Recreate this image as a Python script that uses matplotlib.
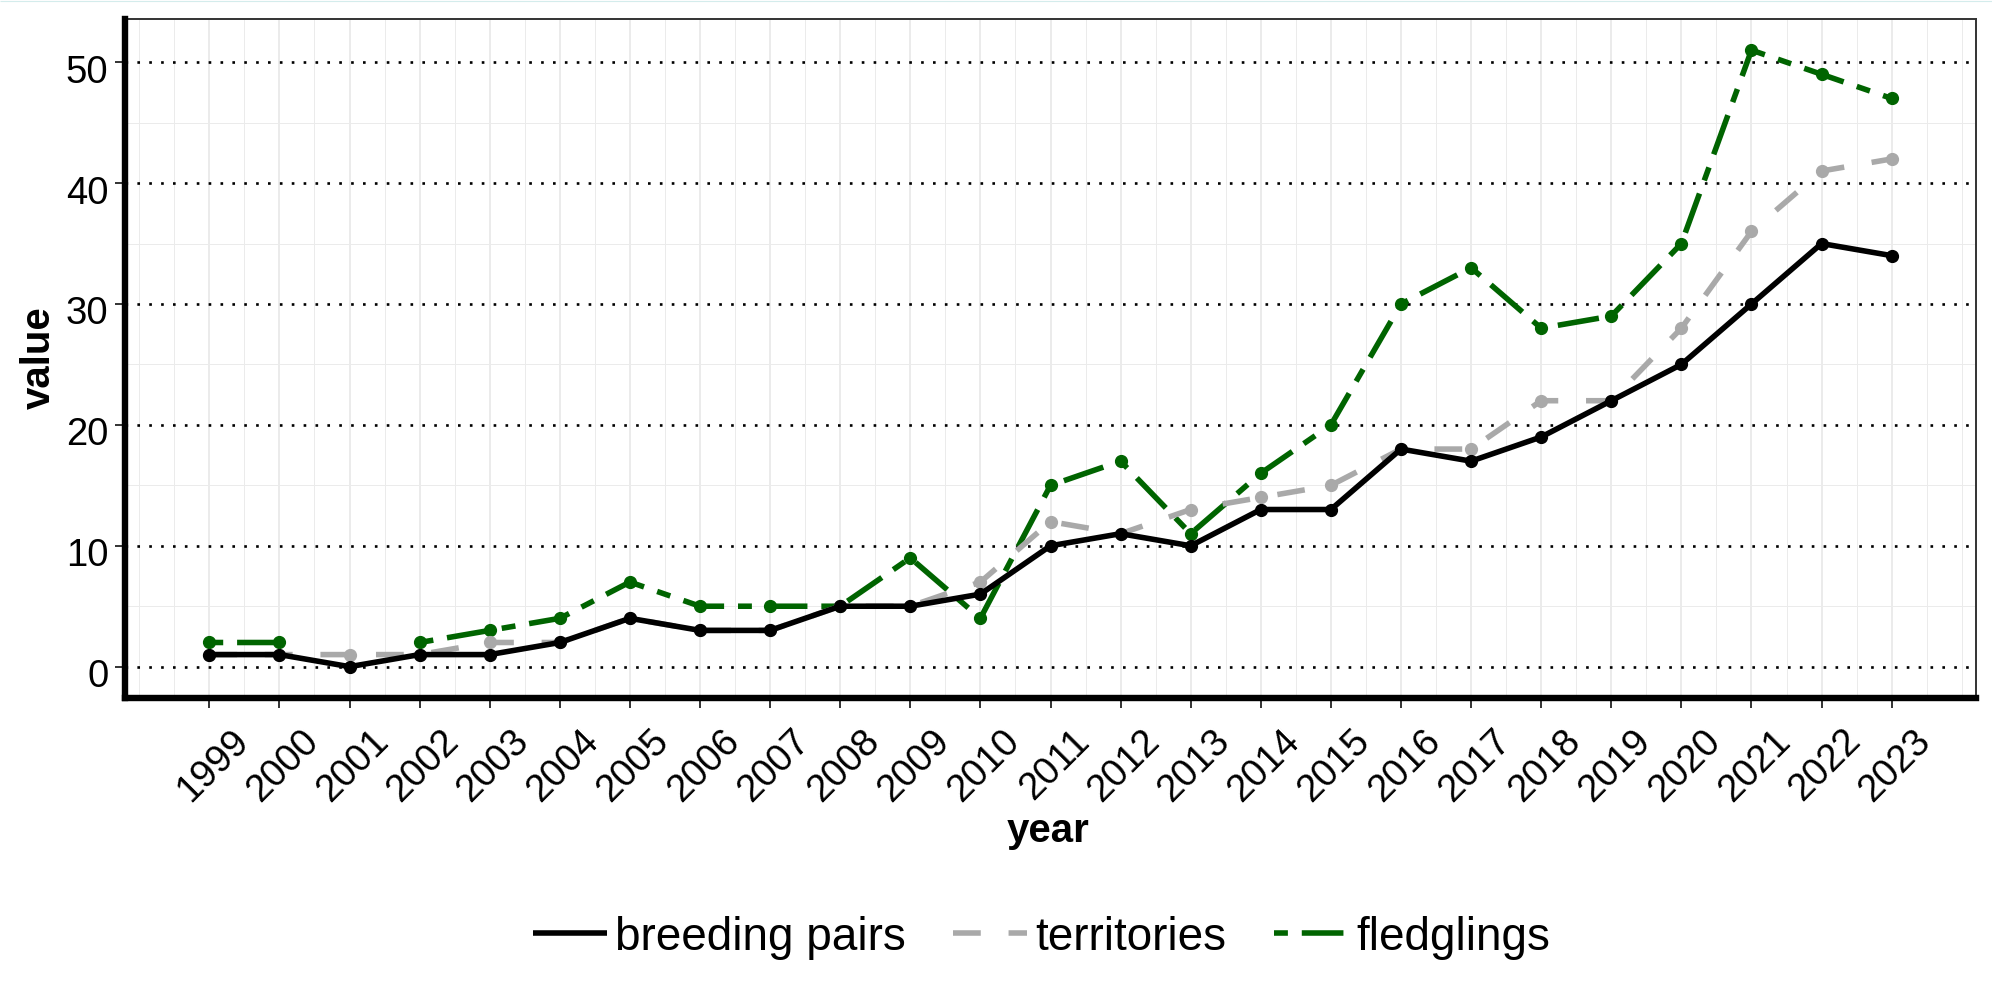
"""Breeding pairs, territories and fledglings per year (1999-2023)."""

import matplotlib
matplotlib.use("Agg")
import matplotlib.pyplot as plt
import matplotlib.transforms as mtransforms
import numpy as np
from matplotlib.lines import Line2D

matplotlib.rcParams.update({
    "font.family": ["Liberation Sans", "DejaVu Sans"],
    "axes.linewidth": 1.4,
    "lines.solid_capstyle": "butt",
    "lines.dash_capstyle": "butt",
})

# ── Data ──────────────────────────────────────────────────────────────────

years = list(range(1999, 2024))
breeding_pairs = [1, 1, 0, 1, 1, 2, 4, 3, 3, 5, 5, 6, 10, 11, 10, 13, 13,
                  18, 17, 19, 22, 25, 30, 35, 34]
territories = [1, 1, 1, 1, 2, 2, 4, 3, 3, 5, 5, 7, 12, 11, 13, 14, 15,
               18, 18, 22, 22, 28, 36, 41, 42]
fledglings = [2, 2, np.nan, 2, 3, 4, 7, 5, 5, 5, 9, 4, 15, 17, 11, 16, 20,
              30, 33, 28, 29, 35, 51, 49, 47]

y_ticks = [0, 10, 20, 30, 40, 50]
y_minor = [5, 15, 25, 35, 45]

# ── Visual encoding ──────────────────────────────────────────────────────

DPI = 100
W, H = 1992, 998
LW = 4.0          # ~5.5 px
MS = 8.5
TICK_FS = 27.5
TITLE_FS = 29
LEGEND_FS = 33

SERIES = [
    # label, values, colour, dashes (in linewidth units)
    ("breeding pairs", breeding_pairs, "#000000", None),
    ("territories", territories, "#A9A9A9", (5.0, 5.0)),
    ("fledglings", fledglings, "#006400", (2.5, 2.5, 7.5, 2.5)),
]


def px(x):
    return x / W


def py(y):
    return 1 - y / H


def main():
    fig = plt.figure(figsize=(W / DPI, H / DPI), dpi=DPI)
    left, right, top, bottom = 125.2, 1975.8, 19.3, 697.5
    ax = fig.add_axes([px(left), py(bottom), (right - left) / W, (bottom - top) / H])

    ax.set_xlim(1997.8, 2024.2)
    ax.set_ylim(-2.55, 53.55)

    # grid: light vertical majors/minors, light horizontal minors, black dotted majors
    for yr in years:
        ax.axvline(yr, color="#EBEBEB", lw=1.4, zorder=0)
    for yr in [1998, 2024] + [y + 0.5 for y in range(1998, 2024)]:
        ax.axvline(yr, color="#EBEBEB", lw=0.7, zorder=0)
    for v in y_minor:
        ax.axhline(v, color="#EBEBEB", lw=0.7, zorder=0)
    for v in y_ticks:
        ax.axhline(v, color="black", lw=1.9, dashes=(1, 3.5), zorder=1)

    # draw fledglings first so breeding pairs sits on top
    handles = []
    for label, vals, color, dashes in reversed(SERIES):
        kw = {"dashes": dashes} if dashes else {}
        ax.plot(years, vals, color=color, lw=LW, marker="o", ms=MS,
                mec=color, mfc=color, zorder=3, **kw)
    for label, vals, color, dashes in SERIES:
        kw = {"dashes": dashes} if dashes else {}
        handles.append(Line2D([], [], color=color, lw=LW, label=label, **kw))

    # spines
    for side in ("top", "right"):
        ax.spines[side].set_color("#333333")
        ax.spines[side].set_linewidth(1.4)
    for side in ("left", "bottom"):
        ax.spines[side].set_color("black")
        ax.spines[side].set_linewidth(4.6)
        ax.spines[side].set_zorder(5)

    ax.set_xticks(years)
    ax.set_xticklabels([str(y) for y in years])
    ax.set_yticks(y_ticks)
    ax.set_yticklabels([str(v) for v in y_ticks])
    ax.tick_params(axis="both", direction="out", length=7.2, width=1.4,
                   color="#333333", labelsize=TICK_FS, labelcolor="black")
    ax.tick_params(axis="x", pad=11)
    ax.tick_params(axis="y", pad=5)
    ax.tick_params(which="minor", length=0)

    dx = mtransforms.ScaledTranslation(21 / DPI, 0, fig.dpi_scale_trans)
    for lab in ax.get_xticklabels():
        lab.set_rotation(45)
        lab.set_ha("right")
        lab.set_va("top")
        lab.set_rotation_mode("anchor")
        lab.set_transform(lab.get_transform() + dx)
    dy = mtransforms.ScaledTranslation(0, -6.5 / DPI, fig.dpi_scale_trans)
    for lab in ax.get_yticklabels():
        lab.set_transform(lab.get_transform() + dy)

    # axis titles
    fig.text(px(1048.5), py(842.5), "year", ha="center", va="baseline",
             fontsize=TITLE_FS, fontweight="bold")
    fig.text(px(50), py(358), "value", ha="center", va="baseline",
             rotation=90, rotation_mode="anchor",
             fontsize=TITLE_FS, fontweight="bold")

    fig.legend(handles=handles, loc="center", ncol=3, frameon=False,
               bbox_to_anchor=(px(1041.5), py(937.5)), fontsize=LEGEND_FS,
               handlelength=1.62, handletextpad=0.18, columnspacing=1.03,
               borderpad=0, borderaxespad=0)

    # faint line along the top edge of the image
    fig.add_artist(Line2D([0, 1], [py(0.5), py(0.5)], color="#d4ecec", lw=0.8))

    fig.savefig("out.png", dpi=DPI)
    plt.close(fig)


if __name__ == "__main__":
    main()
